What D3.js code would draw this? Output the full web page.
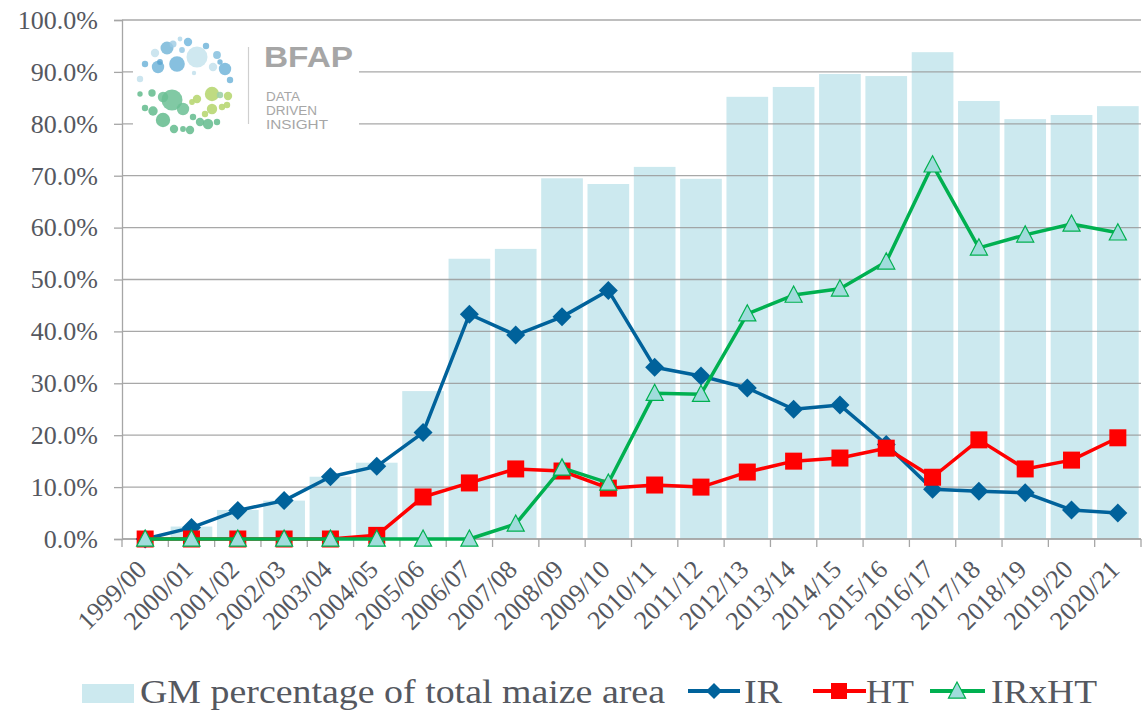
<!DOCTYPE html>
<html>
<head>
<meta charset="utf-8">
<script src="https://cdn.jsdelivr.net/npm/d3@7/dist/d3.min.js"></script>
<style>
  html, body { margin: 0; padding: 0; background: #fff; }
  svg { display: block; }
</style>
</head>
<body>
<svg id="chart" width="1148" height="713"></svg>
<script>
const categories = ["1999/00","2000/01","2001/02","2002/03","2003/04","2004/05","2005/06","2006/07","2007/08","2008/09","2009/10","2010/11","2011/12","2012/13","2013/14","2014/15","2015/16","2016/17","2017/18","2018/19","2019/20","2020/21"];
const gmTotal = [0.0, 2.4, 5.6, 7.4, 12.0, 14.7, 28.5, 54.0, 55.9, 69.5, 68.4, 71.7, 69.4, 85.2, 87.1, 89.6, 89.2, 93.8, 84.4, 80.9, 81.7, 83.4];
const irValues = [0.0, 2.2, 5.5, 7.4, 12.0, 14.0, 20.5, 43.3, 39.3, 42.8, 47.9, 33.1, 31.4, 29.1, 25.0, 25.8, 18.2, 9.6, 9.2, 8.9, 5.6, 5.0];
const htValues = [0.0, 0.0, 0.0, 0.0, 0.0, 0.7, 8.1, 10.8, 13.5, 13.1, 9.8, 10.4, 10.0, 12.9, 15.0, 15.6, 17.5, 11.9, 19.1, 13.5, 15.2, 19.5];
const irxhtValues = [0.0, 0.0, 0.0, 0.0, 0.0, 0.0, 0.0, 0.0, 2.9, 13.7, 10.8, 28.1, 27.9, 43.4, 47.0, 48.2, 53.4, 72.1, 56.1, 58.6, 60.7, 59.0];
const yTicks = [0, 10, 20, 30, 40, 50, 60, 70, 80, 90, 100];
const legendLabels = ["GM  percentage of total maize area", "IR", "HT", "IRxHT"];

(function () {
const svg = d3.select("#chart");
const pLeft = 122, pRight = 1141, pTop = 20, pBottom = 539;
const textColor = "#555860";
const axisColor = "#a6a6a6";
const barColor = "#cce9ef";
const irColor = "#00629b", htColor = "#ff0000", gColor = "#00b050", triFill = "#a0dcdc";
const serif = "'Liberation Serif','Times New Roman',serif";

const x = d3.scaleBand().domain(categories).range([pLeft, pRight]).paddingInner(0.1).paddingOuter(0.05);
const step = x.step();
const cx = d => x(d) + x.bandwidth() / 2;
const y = d3.scaleLinear().domain([0, 100]).range([pBottom, pTop]);

// bars
svg.append("g").selectAll("rect").data(categories).join("rect")
  .attr("x", d => x(d))
  .attr("width", x.bandwidth())
  .attr("y", (d, i) => y(gmTotal[i]))
  .attr("height", (d, i) => y(0) - y(gmTotal[i]))
  .attr("fill", barColor);

// gridlines
svg.append("g").selectAll("line").data(yTicks).join("line")
  .attr("x1", pLeft).attr("x2", pRight)
  .attr("y1", d => y(d)).attr("y2", d => y(d))
  .attr("stroke", "#999999").attr("stroke-opacity", 0.85).attr("stroke-width", 1.3);

// y axis
const yAxis = svg.append("g").attr("transform", `translate(${pLeft},0)`)
  .call(d3.axisLeft(y).tickValues(yTicks).tickSize(8).tickPadding(16).tickFormat(d => d.toFixed(1) + "%"))
  .attr("font-family", serif).attr("font-size", 26);
yAxis.select(".domain").attr("stroke", axisColor).attr("stroke-width", 1.3);
yAxis.selectAll(".tick line").attr("stroke", axisColor).attr("stroke-width", 1.3);
yAxis.selectAll(".tick text").attr("fill", textColor);

// x axis line + boundary ticks
const xg = svg.append("g");
xg.append("line").attr("x1", pLeft).attr("x2", pRight).attr("y1", pBottom).attr("y2", pBottom)
  .attr("stroke", axisColor).attr("stroke-width", 1.3);
xg.selectAll("line.bt").data(d3.range(categories.length + 1)).join("line").attr("class", "bt")
  .attr("x1", i => pLeft + i * step).attr("x2", i => pLeft + i * step)
  .attr("y1", pBottom).attr("y2", pBottom + 8)
  .attr("stroke", axisColor).attr("stroke-width", 1.3);
xg.selectAll("text").data(categories).join("text")
  .attr("transform", d => `translate(${cx(d) + 3},${pBottom + 32}) rotate(-45)`)
  .attr("text-anchor", "end")
  .attr("fill", textColor)
  .attr("font-family", serif).attr("font-size", 26)
  .text(d => d);

// logo
const logo = svg.append("g");
logo.append("rect").attr("x", 133).attr("y", 30).attr("width", 226).attr("height", 106).attr("fill", "#fff");
const logoCircles = [
  [167,48,6.5,"#6fb3d6",0.8],[180,39,2.4,"#b9dcec",0.9],[188,42,4.2,"#7dbde0",0.9],[173,44,3.5,"#9ccbe4",0.8],
  [197,57,10.5,"#cfe8f0",1],[177,64,7.8,"#7ab9dc",0.9],[158,67,6.2,"#7ab9dc",0.9],[155,53,4.2,"#cce5ef",1],
  [145,64,3.2,"#7ab9dc",0.9],[206,46,3.2,"#7ab9dc",0.9],[217,55,3.9,"#8cc3e0",0.9],[220,62,2.7,"#7ab9dc",0.9],
  [225,69,6.2,"#7ab9dc",0.9],[213,67,4.2,"#cce5ef",1],[230,80,3.2,"#7ab9dc",0.9],[140,79,3.2,"#cce5ef",1],
  [194,73,2.2,"#cce5ef",1],[160,62,2.9,"#5aa4cf",0.8],[182,50,2.9,"#9ccbe4",0.9],
  [172,100,10.5,"#6bbf94",0.85],[163,97,5.2,"#6bbf94",0.85],[152,93,3.7,"#6bbf94",0.9],[140,94,2.7,"#6bbf94",0.9],
  [145,108,3.2,"#6bbf94",0.9],[153,111,4.7,"#6bbf94",0.9],[163,120,7.2,"#6bbf94",0.9],[174,129,4.2,"#6bbf94",0.9],
  [183,129,2.9,"#6bbf94",0.9],[190,130,4.2,"#6bbf94",0.9],[183,109,6.2,"#6bbf94",0.85],[193,117,3.2,"#6bbf94",0.9],
  [200,122,4.2,"#6bbf94",0.9],[208,124,5.2,"#6bbf94",0.9],[217,122,3.2,"#6bbf94",0.9],
  [212,94,7.2,"#bcd97a",0.95],[197,99,4.2,"#bcd97a",0.95],[192,102,2.9,"#bcd97a",0.95],[220,95,3.2,"#9fd0a8",0.9],
  [228,96,4.2,"#bcd97a",0.95],[212,109,5.2,"#bcd97a",0.95],[222,107,3.2,"#bcd97a",0.95],[227,105,3.2,"#bcd97a",0.95],
  [205,114,3.2,"#bcd97a",0.95]
];
logo.selectAll("circle").data(logoCircles).join("circle")
  .attr("cx", d => d[0]).attr("cy", d => d[1]).attr("r", d => d[2])
  .attr("fill", d => d[3]).attr("fill-opacity", d => d[4]);
logo.append("line").attr("x1", 248.5).attr("x2", 248.5).attr("y1", 47).attr("y2", 124)
  .attr("stroke", "#cfcfcf").attr("stroke-width", 1.2);
logo.append("text").attr("x", 264).attr("y", 67).attr("fill", "#a6a6a6")
  .attr("font-family", "'Liberation Sans',Arial,sans-serif").attr("font-weight", "bold").attr("font-size", 29)
  .attr("textLength", 89).attr("lengthAdjust", "spacingAndGlyphs").text("BFAP");
const taglineWords = ["DATA", "DRIVEN", "INSIGHT"];
const taglineWidths = [34, 51, 62];
taglineWords.forEach((t, i) => {
  logo.append("text").attr("x", 266).attr("y", 101 + i * 14).attr("fill", "#a6a6a6")
    .attr("font-family", "'Liberation Sans',Arial,sans-serif").attr("font-size", 12)
    .attr("textLength", taglineWidths[i]).attr("lengthAdjust", "spacingAndGlyphs").text(t);
});

// lines
function series(values, color) {
  const line = d3.line().x((d, i) => cx(categories[i])).y(d => y(d));
  svg.append("path").datum(values).attr("d", line)
    .attr("fill", "none").attr("stroke", color).attr("stroke-width", 3.5).attr("stroke-linejoin", "round");
}
const diamond = s => `M0,${-s}L${s},0L0,${s}L${-s},0Z`;
const triangle = s => `M0,${-s}L${s * 0.95},${s * 0.8}L${-s * 0.95},${s * 0.8}Z`;

series(irValues, irColor);
svg.append("g").selectAll("path").data(irValues).join("path")
  .attr("transform", (d, i) => `translate(${cx(categories[i])},${y(d)})`)
  .attr("d", diamond(9.5)).attr("fill", irColor);

series(htValues, htColor);
svg.append("g").selectAll("rect").data(htValues).join("rect")
  .attr("x", (d, i) => cx(categories[i]) - 8.5).attr("y", d => y(d) - 8.5)
  .attr("width", 17).attr("height", 17).attr("fill", htColor);

series(irxhtValues, gColor);
svg.append("g").selectAll("path").data(irxhtValues).join("path")
  .attr("transform", (d, i) => `translate(${cx(categories[i])},${y(d)})`)
  .attr("d", triangle(9)).attr("fill", triFill).attr("stroke", gColor).attr("stroke-width", 1.2);

// legend
const lg = svg.append("g").attr("font-family", serif).attr("font-size", 34).attr("fill", textColor);
lg.append("rect").attr("x", 82).attr("y", 684).attr("width", 52).attr("height", 19).attr("fill", barColor);
lg.append("text").attr("x", 140).attr("y", 703)
  .attr("textLength", 525).attr("lengthAdjust", "spacingAndGlyphs").text(legendLabels[0]);
const ly = 691;
lg.append("line").attr("x1", 688).attr("x2", 740).attr("y1", ly).attr("y2", ly).attr("stroke", irColor).attr("stroke-width", 4);
lg.append("path").attr("transform", `translate(714,${ly})`).attr("d", diamond(8)).attr("fill", irColor);
lg.append("text").attr("x", 744).attr("y", 703)
  .attr("textLength", 38).attr("lengthAdjust", "spacingAndGlyphs").text(legendLabels[1]);
lg.append("line").attr("x1", 813).attr("x2", 866).attr("y1", ly).attr("y2", ly).attr("stroke", htColor).attr("stroke-width", 4);
lg.append("rect").attr("x", 831).attr("y", ly - 8).attr("width", 16).attr("height", 16).attr("fill", htColor);
lg.append("text").attr("x", 866).attr("y", 703)
  .attr("textLength", 48).attr("lengthAdjust", "spacingAndGlyphs").text(legendLabels[2]);
lg.append("line").attr("x1", 930).attr("x2", 985).attr("y1", ly).attr("y2", ly).attr("stroke", gColor).attr("stroke-width", 4);
lg.append("path").attr("transform", `translate(957,${ly})`).attr("d", triangle(9)).attr("fill", triFill).attr("stroke", gColor).attr("stroke-width", 1.2);
lg.append("text").attr("x", 991).attr("y", 703)
  .attr("textLength", 106).attr("lengthAdjust", "spacingAndGlyphs").text(legendLabels[3]);
})();
</script>
</body>
</html>
